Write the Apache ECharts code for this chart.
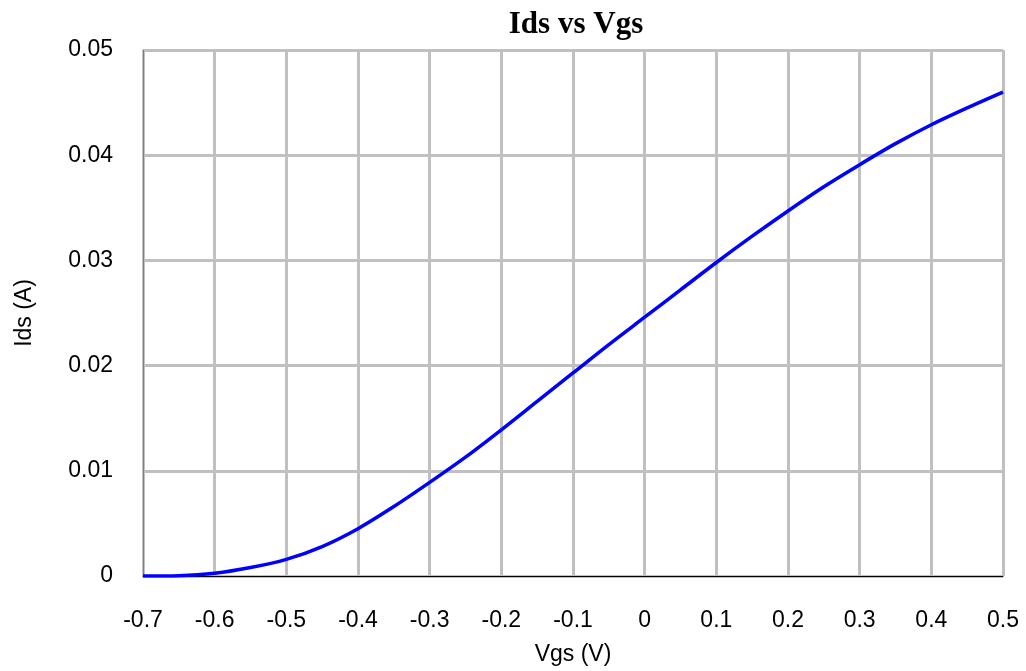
<!DOCTYPE html>
<html><head><meta charset="utf-8">
<script src="https://cdn.jsdelivr.net/npm/echarts@6/dist/echarts.min.js"></script>
<style>html,body{margin:0;padding:0;background:#fff}#c{width:1026px;height:671px}</style>
</head><body><div id="c"></div>
<script>
const vgs = [-0.7,-0.65,-0.6,-0.55,-0.5,-0.45,-0.4,-0.35,-0.3,-0.25,-0.2,-0.15,-0.1,-0.05,0,0.05,0.1,0.15,0.2,0.25,0.3,0.35,0.4,0.45,0.5];
const ids = [0,0.00003,0.00026,0.0008,0.00158,0.0028,0.0045,0.0066,0.0089,0.0113,0.0139,0.0166,0.0193,0.0220,0.0246,0.0272,0.0298,0.0323,0.0347,0.0370,0.0391,0.0411,0.0429,0.0445,0.0460];
const title = 'Ids vs Vgs';
const xName = 'Vgs (V)';
const yName = 'Ids (A)';
const chart = echarts.init(document.getElementById('c'));
chart.setOption({
  animation:false,
  backgroundColor:'#fff',
  title:{text:title,left:571,textAlign:'center',top:4,textStyle:{fontFamily:'Liberation Serif',fontWeight:'bold',fontSize:31,color:'#000'}},
  grid:{left:143,right:23,top:50,bottom:95,show:true,borderColor:'#000',borderWidth:1,outerBoundsMode:'none',containLabel:false},
  xAxis:{type:'value',min:-0.7,max:0.5,interval:0.1,name:xName,nameLocation:'middle',nameGap:67,
    nameTextStyle:{fontFamily:'Liberation Sans',fontSize:23,color:'#000'},
    axisLine:{onZero:false,lineStyle:{color:'#000',width:1}},axisTick:{show:false},
    axisLabel:{margin:33,fontFamily:'Liberation Sans',fontSize:23,color:'#000',formatter:v=>String(Math.round(v*10)/10)},
    splitLine:{lineStyle:{color:'#c0c0c0',width:3}}},
  yAxis:{type:'value',min:0,max:0.05,interval:0.01,name:yName,nameLocation:'middle',nameGap:107,
    nameTextStyle:{fontFamily:'Liberation Sans',fontSize:23,color:'#000'},
    axisLine:{show:true,onZero:false,lineStyle:{color:'#808080',width:1}},axisTick:{show:false},
    axisLabel:{margin:30,fontFamily:'Liberation Sans',fontSize:23,color:'#000',formatter:v=>String(Math.round(v*100)/100)},
    splitLine:{lineStyle:{color:'#c0c0c0',width:3}}},
  series:[{type:'line',data:vgs.map((x,i)=>[x,ids[i]]),smooth:0.3,showSymbol:false,lineStyle:{color:'#0000ff',width:3.5},z:5}]
});
</script></body></html>
